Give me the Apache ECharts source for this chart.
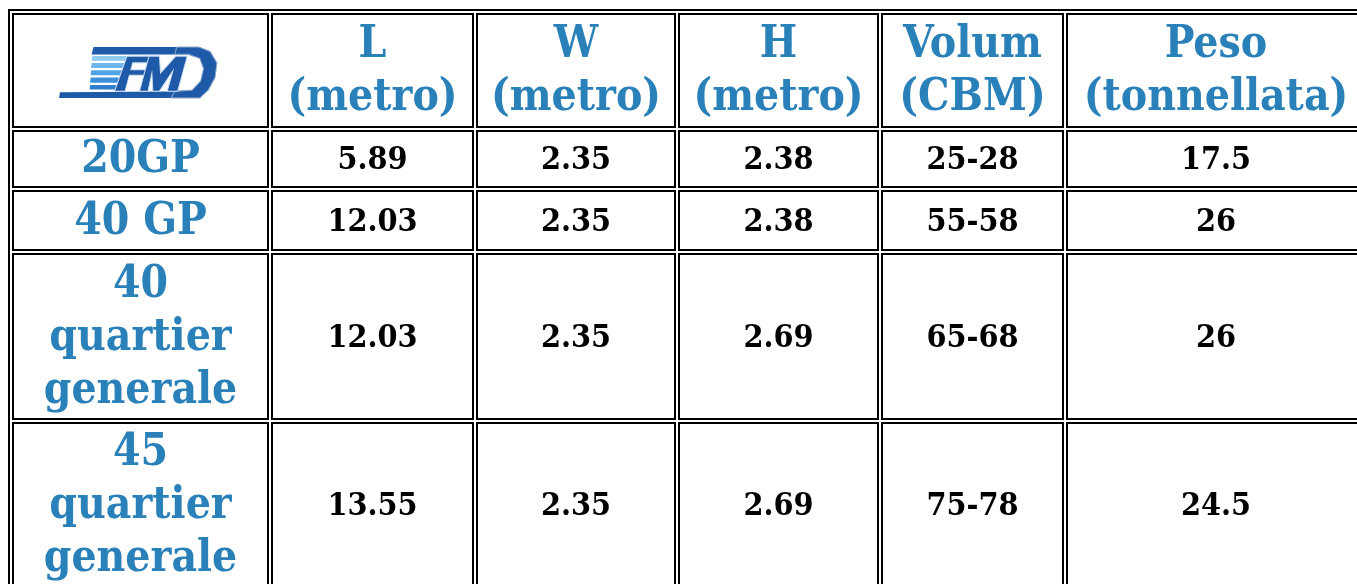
<!DOCTYPE html>
<html><head><meta charset="utf-8">
<script src="https://cdn.jsdelivr.net/npm/echarts@6/dist/echarts.min.js"></script>
<style>html,body{margin:0;padding:0;background:#fff}#c{width:1357px;height:584px}</style>
</head><body><div id="c"></div>
<script>
// ---- data ----
const headers = ['L\n(metro)', 'W\n(metro)', 'H\n(metro)', 'Volum\n(CBM)', 'Peso\n(tonnellata)'];
const containers = ['20GP', '40 GP', '40\nquartier\ngenerale', '45\nquartier\ngenerale'];
const lengthM = ['5.89', '12.03', '12.03', '13.55'];
const widthM = ['2.35', '2.35', '2.35', '2.35'];
const heightM = ['2.38', '2.38', '2.69', '2.69'];
const volumeCBM = ['25-28', '55-58', '65-68', '75-78'];
const weightT = ['17.5', '26', '26', '24.5'];

// ---- layout ----
const colEdges = [12, 271, 476, 678, 881, 1066, 1368];
const rowEdges = [13, 130, 190, 253, 422, 590];
const BLUE = '#2a80b9';
const FONT = 'DejaVu Serif Condensed';

const cells = [];
cells.push({c: 0, r: 0, text: '', kind: 'logo'});
headers.forEach((h, i) => cells.push({c: i + 1, r: 0, text: h, kind: 'head'}));
const cols = [lengthM, widthM, heightM, volumeCBM, weightT];
containers.forEach((name, r) => {
  cells.push({c: 0, r: r + 1, text: name, kind: 'head'});
  cols.forEach((arr, i) => cells.push({c: i + 1, r: r + 1, text: arr[r], kind: 'val'}));
});

function renderItem(params, api) {
  const cell = cells[params.dataIndex];
  const c = api.value(0), r = api.value(1);
  const p0 = api.coord([colEdges[c], rowEdges[r]]);
  const p1 = api.coord([colEdges[c + 1] - 2, rowEdges[r + 1] - 2]);
  const children = [{
    type: 'rect',
    shape: {x: p0[0] + 1, y: p0[1] + 1, width: p1[0] - p0[0] - 2, height: p1[1] - p0[1] - 2},
    style: {fill: 'none', stroke: '#000', lineWidth: 2}
  }];
  if (cell.text) {
    const head = cell.kind === 'head';
    children.push({
      type: 'text',
      x: (p0[0] + p1[0]) / 2,
      y: (p0[1] + p1[1]) / 2 + 2,
      style: {
        text: cell.text,
        fontFamily: FONT,
        fontWeight: 'bold',
        fontSize: head ? 44 : 32,
        lineHeight: head ? 53 : 38,
        fill: head ? BLUE : '#000',
        align: 'center',
        verticalAlign: 'middle'
      }
    });
  }
  return {type: 'group', children};
}

const DARK = '#1e5aa8';
function poly(points, fill, stroke) {
  const el = {type: 'polygon', z: 100, shape: {points}, style: {fill}};
  if (stroke) { el.style.stroke = stroke; el.style.lineWidth = 1; }
  return el;
}
const logo = {
  type: 'group', x: 60, y: 32.3, scaleX: 0.957, scaleY: 1.133, z: 100,
  children: [
    poly([[0,53],[150,52],[147,58],[-1,58]], DARK),
    poly([[35,13],[132,13],[130,19.5],[33,19.5]], DARK),
    poly([[122,13],[145,13],[157,17],[164,27],[162,40],[155,51],[146,58],[116,58],[120,52],[138,51],[147,43],[150,32],[146,23],[134,19.5],[120,19.5]], DARK, '#8fa9cc'),
    poly([[34,21],[72,21],[71,25],[33,25]], '#8fcaf0'),
    poly([[33,27],[70,27],[69,31.5],[32.5,31.5]], '#6cb6ec'),
    poly([[32.5,33.5],[67,33.5],[66,38],[32,38]], '#4fa3e6'),
    poly([[32,40],[65,40],[64,44.5],[31.5,44.5]], '#3a90dc'),
    poly([[31.5,46.5],[62,46.5],[61,50.5],[31,50.5]], '#2f7fd0'),
    poly([[70,21],[102,21],[100,27],[76,27],[74,33],[92,33],[90,38],[72.5,38],[68,52],[57,52]], DARK, '#cfe0f2'),
    poly([[83,52],[93,21],[104,21],[105,36],[121,21],[133,21],[123,52],[112,52],[118,34],[104,52],[97,52],[96,36],[92,52]], DARK, '#cfe0f2')
  ]
};

const chart = echarts.init(document.getElementById('c'), null, {renderer: 'canvas'});
chart.setOption({
  backgroundColor: '#fff',
  animation: false,
  grid: {left: 0, right: 0, top: 0, bottom: 0},
  xAxis: {type: 'value', min: 0, max: 1357, show: false},
  yAxis: {type: 'value', min: 0, max: 584, inverse: true, show: false},
  series: [{
    type: 'custom',
    renderItem,
    clip: false,
    data: cells.map(d => [d.c, d.r])
  }],
  graphic: [
    {type: 'rect', x: 9, y: 10, shape: {width: 1400, height: 620}, style: {fill: 'none', stroke: '#000', lineWidth: 2}},
    logo
  ]
});
</script></body></html>
